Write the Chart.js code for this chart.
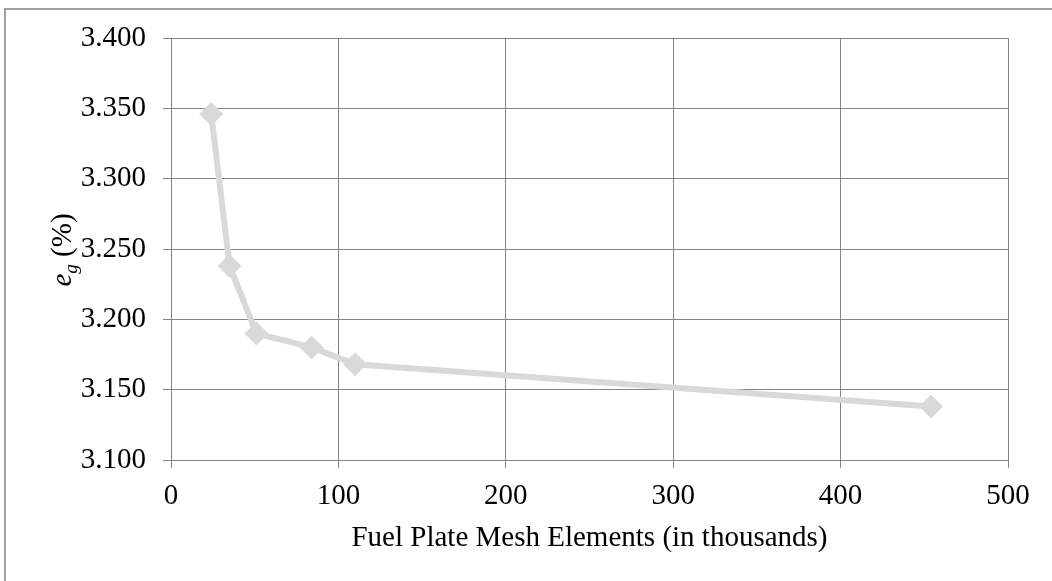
<!DOCTYPE html>
<html>
<head>
<meta charset="utf-8">
<script src="https://cdn.jsdelivr.net/npm/chart.js@4/dist/chart.umd.min.js"></script>
<style>
  html, body { margin: 0; padding: 0; background: #ffffff; }
  #wrap { position: relative; width: 1052px; height: 581px; }
</style>
</head>
<body>
<div id="wrap"><canvas id="c" width="1052" height="581"></canvas></div>
<script>
// Data
const meshElements = [24, 35, 51, 84, 110, 454];            // thousands
const errorPercent = [3.346, 3.238, 3.190, 3.180, 3.168, 3.138];
const xTicks = [0, 100, 200, 300, 400, 500];
const yTicks = [3.100, 3.150, 3.200, 3.250, 3.300, 3.350, 3.400];
const xTitle = 'Fuel Plate Mesh Elements (in thousands)';
const yTitleMain = 'e';
const yTitleSub = 'g';
const yTitleRest = ' (%)';

const FONT = '"Liberation Serif", "Times New Roman", serif';
const GRID = '#858585';

const framePlugin = {
  id: 'frame',
  afterDraw(chart) {
    const ctx = chart.ctx;
    ctx.save();
    ctx.strokeStyle = '#a0a0a0';
    ctx.lineWidth = 2;
    ctx.beginPath();
    ctx.moveTo(5, 581);
    ctx.lineTo(5, 9);
    ctx.lineTo(1052, 9);
    ctx.stroke();
    // y-axis title with subscript, rotated
    ctx.translate(71, 250);
    ctx.rotate(-Math.PI / 2);
    ctx.fillStyle = '#000';
    ctx.textBaseline = 'alphabetic';
    ctx.font = 'italic 29px ' + FONT;
    const wE = ctx.measureText(yTitleMain).width;
    ctx.font = 'italic 19px ' + FONT;
    const wG = ctx.measureText(yTitleSub).width;
    ctx.font = '29px ' + FONT;
    const wR = ctx.measureText(yTitleRest).width;
    let x = -(wE + wG + wR) / 2;
    ctx.font = 'italic 29px ' + FONT;
    ctx.fillText(yTitleMain, x, 0);
    x += wE;
    ctx.font = 'italic 19px ' + FONT;
    ctx.fillText(yTitleSub, x, 6);
    x += wG;
    ctx.font = '29px ' + FONT;
    ctx.fillText(yTitleRest, x, 0);
    ctx.restore();
  }
};

new Chart(document.getElementById('c'), {
  type: 'line',
  data: {
    datasets: [{
      data: meshElements.map((v, i) => ({ x: v, y: errorPercent[i] })),
      borderColor: '#d9d9d9',
      backgroundColor: '#d9d9d9',
      borderWidth: 6,
      pointStyle: 'rectRot',
      pointRadius: 12,
      pointHoverRadius: 12,
      pointBorderWidth: 0,
      pointBackgroundColor: '#d9d9d9',
      tension: 0,
      fill: false
    }]
  },
  options: {
    responsive: false,
    animation: false,
    devicePixelRatio: 1,
    layout: { padding: { left: 0, top: 38, right: 44, bottom: 0 } },
    plugins: { legend: { display: false }, tooltip: { enabled: false } },
    scales: {
      x: {
        type: 'linear',
        min: xTicks[0],
        max: xTicks[xTicks.length - 1],
        afterBuildTicks(scale) { scale.ticks = xTicks.map(v => ({ value: v })); },
        afterFit(scale) { scale.height = 121; },
        grid: { color: GRID, lineWidth: 1, tickLength: 8, drawTicks: true },
        border: { color: GRID, width: 1 },
        ticks: {
          color: '#000',
          font: { family: FONT, size: 29 },
          padding: 11,
          maxRotation: 0,
          callback: v => String(v)
        },
        title: {
          display: true,
          text: xTitle,
          color: '#000',
          font: { family: FONT, size: 29 },
          padding: { top: 4, bottom: 25 }
        }
      },
      y: {
        type: 'linear',
        min: yTicks[0],
        max: yTicks[yTicks.length - 1],
        afterBuildTicks(scale) { scale.ticks = yTicks.map(v => ({ value: v })); },
        afterFit(scale) { scale.width = 171; },
        grid: { color: GRID, lineWidth: 1, tickLength: 8, drawTicks: true },
        border: { color: GRID, width: 1 },
        ticks: {
          color: '#000',
          font: { family: FONT, size: 29 },
          padding: 17,
          callback: v => Number(v).toFixed(3)
        }
      }
    }
  },
  plugins: [framePlugin]
});
</script>
</body>
</html>
